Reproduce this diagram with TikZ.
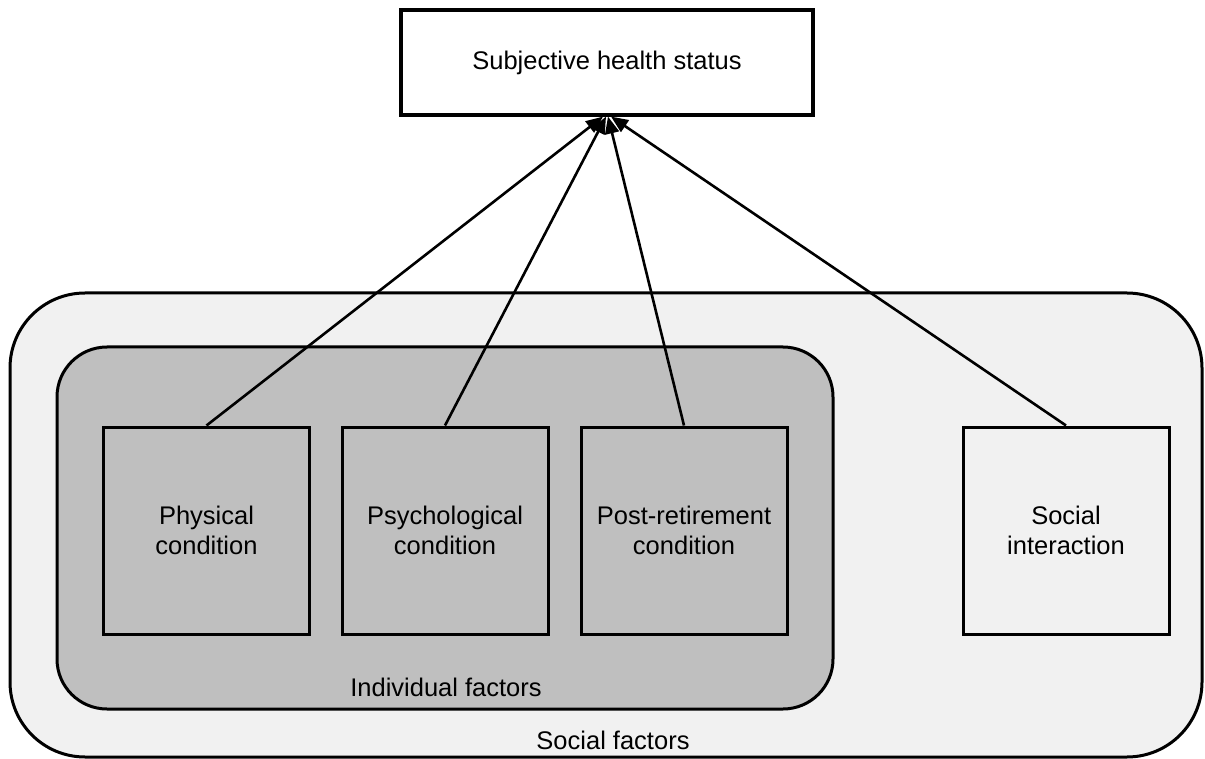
\documentclass[tikz,border=0pt]{standalone}
\usepackage{fontspec}
\setmainfont{Liberation Sans}
\usetikzlibrary{arrows.meta}
\definecolor{outerfill}{HTML}{F1F1F1}
\definecolor{innerfill}{HTML}{BFBFBF}
\begin{document}
\begin{tikzpicture}[x=1pt,y=-1pt,
  every node/.style={font=\fontsize{25.5}{30}\selectfont},
  factorbox/.style={draw, line width=3pt, minimum width=206pt, minimum height=207pt, inner sep=0pt, align=center},
  topbox/.style={draw, line width=3.2pt, fill=white, minimum width=412pt, minimum height=105pt, inner sep=0pt},
  link/.style={line width=2.6pt, -{Triangle[length=17pt,width=14pt]}},
  grouplabel/.style={inner sep=0pt}
]
\useasboundingbox (0,0) rectangle (1205,759);
% outer and inner groups
\draw[line width=3pt, fill=outerfill, rounded corners=75pt] (10,293) rectangle (1202,757);
\draw[line width=3pt, fill=innerfill, rounded corners=50pt] (57,347) rectangle (833,709);
% nodes
\node[topbox] (top) at (607,62.5) {Subjective health status};
\node[factorbox, fill=innerfill] (phys) at (206.5,530.5) {Physical\\condition};
\node[factorbox, fill=innerfill] (psych) at (445,530.5) {Psychological\\condition};
\node[factorbox, fill=innerfill] (post) at (684,530.5) {Post-retirement\\condition};
\node[factorbox, fill=outerfill] (soc) at (1066,530.5) {Social\\interaction};
\node[grouplabel] (indlab) at (446,687) {Individual factors};
\node[grouplabel] (soclab) at (613,740) {Social factors};
% connectors
\draw[link] (phys.north) -- ([xshift=-4pt]top.south);
\draw[link] (psych.north) -- ([xshift=-1pt]top.south);
\draw[link] (post.north) -- ([xshift=1pt]top.south);
\draw[link] (soc.north) -- ([xshift=4pt]top.south);
\end{tikzpicture}
\end{document}
